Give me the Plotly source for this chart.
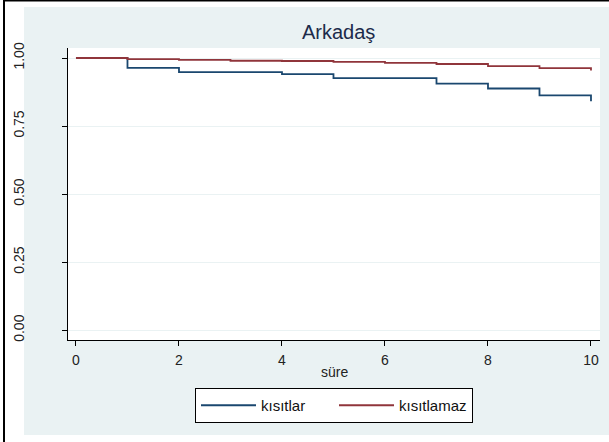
import plotly.graph_objects as go

# ---- data ----
times = [0, 1, 2, 3, 4, 5, 6, 7, 8, 9, 10]
kisitlar = [1.0, 0.964, 0.948, 0.948, 0.941, 0.926, 0.926, 0.906, 0.888, 0.863, 0.841]
kisitlamaz = [1.0, 0.996, 0.993, 0.990, 0.989, 0.986, 0.982, 0.978, 0.970, 0.963, 0.954]
series_names = ["kısıtlar", "kısıtlamaz"]
y_ticks = [0, 0.25, 0.5, 0.75, 1.0]
y_ticktext = ["0.00", "0.25", "0.50", "0.75", "1.00"]
x_ticks = [0, 2, 4, 6, 8, 10]
title_text = "Arkadaş"
x_title = "süre"

W, H = 609, 442
L, R, T, B = 68, 9, 48, 102
PW, PH = W - L - R, H - T - B

def px(x):
    return (x - L) / PW

def py(y):
    return (H - B - y) / PH

BG = "#EAF2F3"
FONT = "Liberation Sans, Arial, sans-serif"

fig = go.Figure()
fig.add_trace(go.Scatter(x=times, y=kisitlar, mode="lines", line_shape="hv",
                         name=series_names[0], line=dict(color="#1A476F", width=1.8)))
fig.add_trace(go.Scatter(x=times, y=kisitlamaz, mode="lines", line_shape="hv",
                         name=series_names[1], line=dict(color="#90353B", width=1.8)))

shapes = [
    # white margins around the graph region
    dict(type="rect", xref="paper", yref="paper", x0=px(0), x1=px(24), y0=py(H), y1=py(0),
         fillcolor="white", line_width=0, layer="below"),
    dict(type="rect", xref="paper", yref="paper", x0=px(0), x1=px(W), y0=py(7), y1=py(0),
         fillcolor="white", line_width=0, layer="below"),
    dict(type="rect", xref="paper", yref="paper", x0=px(0), x1=px(W), y0=py(H), y1=py(435),
         fillcolor="white", line_width=0, layer="below"),
    # black frame lines
    dict(type="rect", xref="paper", yref="paper", x0=px(3), x1=px(5), y0=py(H), y1=py(0),
         fillcolor="black", line_width=0, layer="below"),
    dict(type="rect", xref="paper", yref="paper", x0=px(3), x1=px(W), y0=py(1.5), y1=py(0),
         fillcolor="black", line_width=0, layer="below"),
]

fig.update_layout(
    width=W, height=H,
    margin=dict(l=L, r=R, t=T, b=B, pad=0),
    paper_bgcolor=BG, plot_bgcolor="white",
    font=dict(family=FONT, size=14, color="#222"),
    showlegend=True,
    legend=dict(orientation="h", x=px(334), xanchor="center", y=py(388), yanchor="top",
                bgcolor="white", bordercolor="black", borderwidth=1,
                font=dict(size=15, color="#111"), itemwidth=55, tracegroupgap=0,
                entrywidth=68, entrywidthmode="pixels"),
    shapes=shapes,
    annotations=[
        dict(text=title_text, xref="paper", yref="paper", x=px(338), y=py(31.5),
             xanchor="center", yanchor="middle", showarrow=False,
             font=dict(size=20, color="#1c2b4a", family=FONT)),
        dict(text=x_title, xref="paper", yref="paper", x=px(334), y=py(372),
             xanchor="center", yanchor="middle", showarrow=False,
             font=dict(size=14, color="#222", family=FONT)),
    ],
)

fig.update_xaxes(range=[-0.155, 10.175], tickvals=x_ticks, showgrid=False, zeroline=False,
                 showline=True, linecolor="black", linewidth=1,
                 ticks="outside", ticklen=5, tickcolor="black", tickwidth=1,
                 ticklabelstandoff=2)
fig.update_yaxes(range=[-0.0357, 1.0368], tickvals=y_ticks, ticktext=y_ticktext,
                 tickangle=-90, showgrid=True, gridcolor=BG, gridwidth=1, zeroline=False,
                 showline=True, linecolor="black", linewidth=1,
                 ticks="outside", ticklen=5, tickcolor="black", tickwidth=1,
                 ticklabelstandoff=32)

fig.write_html("out.html")
